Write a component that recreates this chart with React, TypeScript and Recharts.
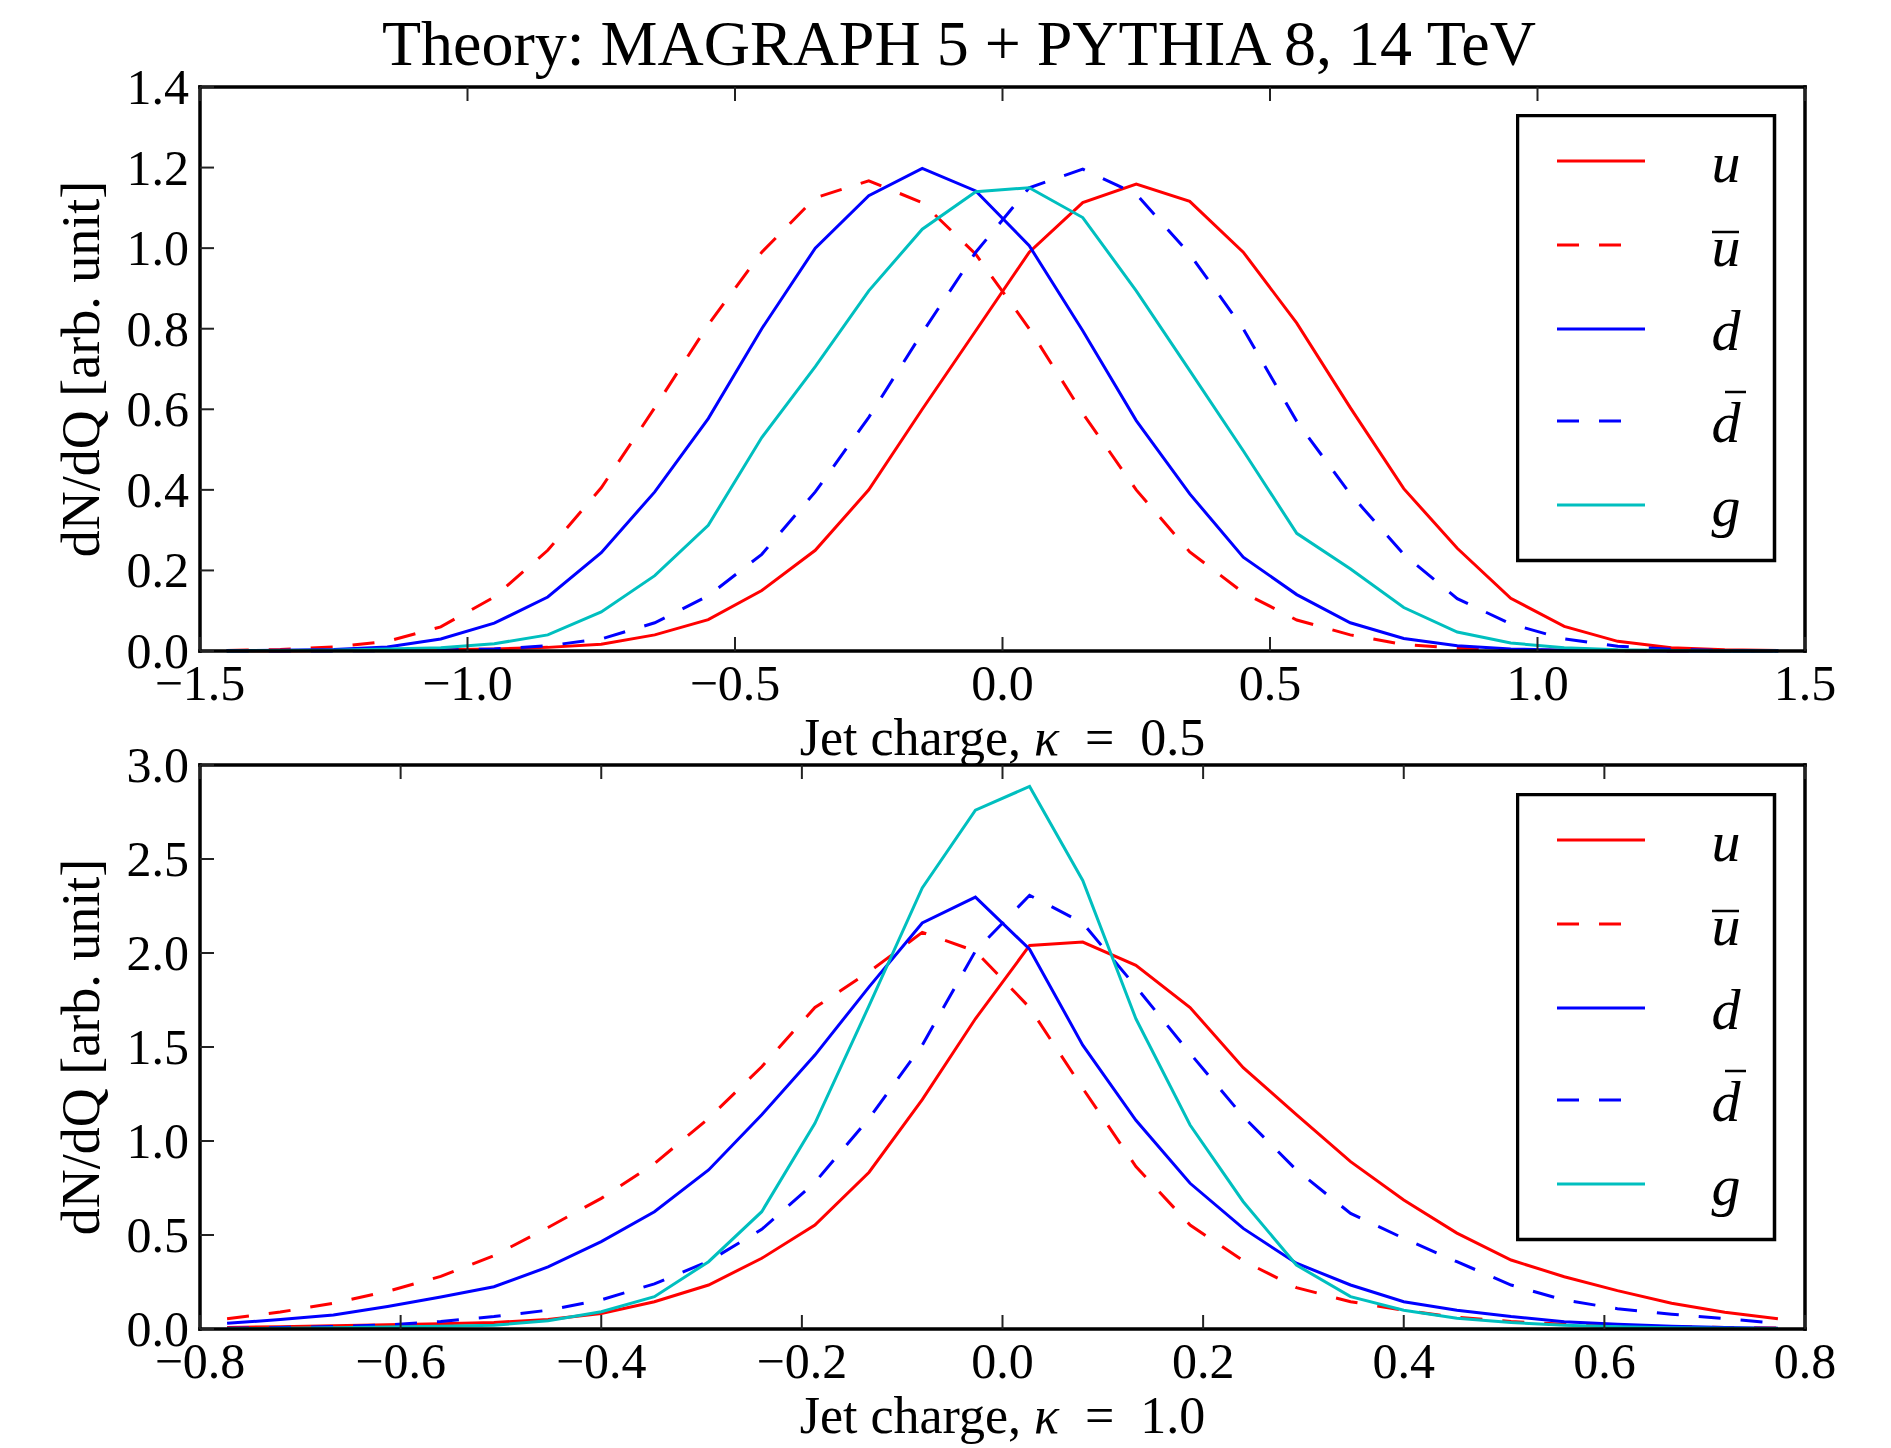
import { LineChart, Line, XAxis, YAxis, Legend } from 'recharts';

// bin centres, kappa = 0.5 panel
const X_TOP = [-1.45, -1.35, -1.25, -1.15, -1.05, -0.95, -0.85, -0.75, -0.65, -0.55, -0.45, -0.35, -0.25, -0.15, -0.05,
  0.05, 0.15, 0.25, 0.35, 0.45, 0.55, 0.65, 0.75, 0.85, 0.95, 1.05, 1.15, 1.25, 1.35, 1.45];
const U_TOP = [0.000, 0.000, 0.001, 0.002, 0.003, 0.005, 0.009, 0.017, 0.040, 0.078, 0.150, 0.250, 0.400, 0.600, 0.795,
  0.990, 1.113, 1.159, 1.116, 0.990, 0.814, 0.604, 0.403, 0.255, 0.131, 0.061, 0.024, 0.008, 0.003, 0.001];
const UBAR_TOP = [0.001, 0.004, 0.010, 0.024, 0.060, 0.134, 0.250, 0.405, 0.604, 0.810, 0.990, 1.125, 1.167, 1.113, 0.985,
  0.800, 0.590, 0.400, 0.246, 0.145, 0.077, 0.040, 0.016, 0.007, 0.003, 0.002, 0.001, 0.000, 0.000, 0.000];
const D_TOP = [0.001, 0.002, 0.004, 0.010, 0.030, 0.069, 0.134, 0.244, 0.395, 0.577, 0.800, 1.000, 1.130, 1.198, 1.142,
  1.006, 0.795, 0.572, 0.390, 0.233, 0.140, 0.070, 0.031, 0.013, 0.005, 0.002, 0.001, 0.000, 0.000, 0.000];
const DBAR_TOP = [0.000, 0.000, 0.000, 0.001, 0.002, 0.005, 0.013, 0.030, 0.070, 0.137, 0.240, 0.395, 0.580, 0.790, 0.990,
  1.150, 1.196, 1.134, 0.985, 0.800, 0.570, 0.390, 0.240, 0.130, 0.067, 0.030, 0.012, 0.004, 0.001, 0.000];
const G_TOP = [0.000, 0.001, 0.002, 0.005, 0.008, 0.018, 0.040, 0.097, 0.187, 0.312, 0.530, 0.706, 0.894, 1.047, 1.140,
  1.150, 1.076, 0.894, 0.696, 0.497, 0.292, 0.204, 0.108, 0.047, 0.020, 0.008, 0.003, 0.001, 0.000, 0.000];

// bin centres, kappa = 1.0 panel
const X_BOT = [-0.773, -0.720, -0.667, -0.613, -0.560, -0.507, -0.453, -0.400, -0.347, -0.293, -0.240, -0.187, -0.133, -0.080, -0.027,
  0.027, 0.080, 0.133, 0.187, 0.240, 0.293, 0.347, 0.400, 0.453, 0.507, 0.560, 0.613, 0.667, 0.720, 0.773];
const U_BOT = [0.008, 0.012, 0.017, 0.022, 0.028, 0.035, 0.050, 0.083, 0.145, 0.234, 0.376, 0.553, 0.834, 1.220, 1.650,
  2.040, 2.058, 1.934, 1.710, 1.390, 1.140, 0.890, 0.686, 0.510, 0.367, 0.278, 0.204, 0.137, 0.089, 0.055];
const UBAR_BOT = [0.055, 0.090, 0.137, 0.200, 0.280, 0.390, 0.540, 0.695, 0.880, 1.120, 1.395, 1.710, 1.900, 2.110, 2.010,
  1.710, 1.280, 0.864, 0.553, 0.363, 0.220, 0.145, 0.100, 0.062, 0.040, 0.025, 0.017, 0.012, 0.008, 0.005];
const D_BOT = [0.030, 0.050, 0.075, 0.120, 0.170, 0.225, 0.330, 0.465, 0.624, 0.846, 1.140, 1.457, 1.820, 2.160, 2.297,
  2.020, 1.510, 1.110, 0.775, 0.535, 0.350, 0.234, 0.145, 0.100, 0.066, 0.039, 0.025, 0.014, 0.008, 0.004];
const DBAR_BOT = [0.004, 0.008, 0.013, 0.022, 0.040, 0.066, 0.100, 0.155, 0.240, 0.360, 0.530, 0.780, 1.120, 1.510, 2.010,
  2.307, 2.160, 1.820, 1.466, 1.130, 0.846, 0.615, 0.482, 0.358, 0.234, 0.154, 0.108, 0.079, 0.055, 0.030];
const G_BOT = [0.002, 0.004, 0.006, 0.010, 0.014, 0.020, 0.044, 0.092, 0.172, 0.358, 0.624, 1.094, 1.720, 2.346, 2.760,
  2.886, 2.386, 1.650, 1.085, 0.677, 0.340, 0.172, 0.100, 0.057, 0.034, 0.020, 0.012, 0.007, 0.004, 0.002];

const X_TICKS_TOP = [-1.5, -1.0, -0.5, 0.0, 0.5, 1.0, 1.5];
const Y_TICKS_TOP = [0.0, 0.2, 0.4, 0.6, 0.8, 1.0, 1.2, 1.4];
const X_TICKS_BOT = [-0.8, -0.6, -0.4, -0.2, 0.0, 0.2, 0.4, 0.6, 0.8];
const Y_TICKS_BOT = [0.0, 0.5, 1.0, 1.5, 2.0, 2.5, 3.0];

const TITLE = 'Theory: MAGRAPH 5 + PYTHIA 8, 14 TeV';
const Y_TITLE = 'dN/dQ [arb. unit]';

const FONT = '"Liberation Serif", "Times New Roman", serif';
const TICK_LEN = 14;
const DASH = '22 20';

const SERIES = [
  { key: 'u', name: 'u', color: '#ff0000', dash: undefined },
  { key: 'ubar', name: 'u\u0304', color: '#ff0000', dash: DASH },
  { key: 'd', name: 'd', color: '#0000ff', dash: undefined },
  { key: 'dbar', name: 'd\u0304', color: '#0000ff', dash: DASH },
  { key: 'g', name: 'g', color: '#00bfbf', dash: undefined },
];

const fmt = (v: number) => v.toFixed(1).replace('-', '\u2212');

const BottomTick = (props: any) => {
  const { x, y, payload } = props;
  return (
    <g>
      <line x1={x} x2={x} y1={y} y2={y - TICK_LEN} stroke="#222" strokeWidth={2} />
      <text x={x} y={y + 49} textAnchor="middle" fontFamily={FONT} fontSize={50} fill="#000">
        {fmt(payload.value)}
      </text>
    </g>
  );
};

const TopTick = (props: any) => {
  const { x, y } = props;
  return <line x1={x} x2={x} y1={y} y2={y + TICK_LEN} stroke="#222" strokeWidth={2} />;
};

const LeftTick = (props: any) => {
  const { x, y, payload } = props;
  return (
    <g>
      <line x1={x} x2={x + TICK_LEN} y1={y} y2={y} stroke="#222" strokeWidth={2} />
      <text x={x - 11} y={y + 17} textAnchor="end" fontFamily={FONT} fontSize={50} fill="#000">
        {fmt(payload.value)}
      </text>
    </g>
  );
};

const RightTick = (props: any) => {
  const { x, y } = props;
  return <line x1={x} x2={x - TICK_LEN} y1={y} y2={y} stroke="#222" strokeWidth={2} />;
};

const LEGEND_ROWS = [47, 131, 215, 307, 391];

const LegendBox = ({ payload }: any) => {
  const items = SERIES.map((s) => (payload || []).find((p: any) => p.dataKey === s.key)).filter(Boolean);
  return (
    <svg width={262} height={450} style={{ display: 'block' }}>
      <rect x={1.5} y={1.5} width={257} height={445} fill="#fff" stroke="#000" strokeWidth={3.5} />
      {items.map((e: any, i: number) => {
        const y = LEGEND_ROWS[i];
        const raw = String(e.value);
        const bar = raw.includes('\u0304');
        const base = raw.replace('\u0304', '');
        const dash = e.payload?.strokeDasharray;
        const tall = base === 'd';
        return (
          <g key={raw}>
            <line x1={41} x2={dash ? 108 : 129} y1={y} y2={y} stroke={e.color} strokeWidth={3} strokeDasharray={dash} />
            <text x={210} y={y + 21} textAnchor="middle" fontFamily={FONT} fontStyle="italic" fontSize={58} fill="#000">
              {base}
            </text>
            {bar && (
              <line x1={tall ? 209 : 196} x2={tall ? 230 : 223} y1={tall ? y - 29 : y - 13} y2={tall ? y - 29 : y - 13}
                stroke="#000" strokeWidth={2.5} />
            )}
          </g>
        );
      })}
    </svg>
  );
};

type PanelProps = {
  xs: number[];
  u: number[];
  ubar: number[];
  d: number[];
  dbar: number[];
  g: number[];
  xTicks: number[];
  yTicks: number[];
  kappa: string;
  height: number;
  marginTop: number;
  axisHeight: number;
  legendTop: number;
};

function Panel({ xs, u, ubar, d, dbar, g, xTicks, yTicks, kappa, height, marginTop, axisHeight, legendTop }: PanelProps) {
  const rows = xs.map((x, i) => ({ x, u: u[i], ubar: ubar[i], d: d[i], dbar: dbar[i], g: g[i] }));
  const xDomain = [xTicks[0], xTicks[xTicks.length - 1]];
  const yDomain = [yTicks[0], yTicks[yTicks.length - 1]];
  const frame = { stroke: '#000', strokeWidth: 3.5, strokeLinecap: 'square' as const };

  return (
    <LineChart width={1891} height={height} data={rows} margin={{ top: marginTop - 1, right: 85, left: 0, bottom: 0 }}>
      <XAxis xAxisId="b" dataKey="x" type="number" domain={xDomain} ticks={xTicks} interval={0}
        height={axisHeight} tickSize={0} tickMargin={0} tickLine={false} axisLine={frame} tick={BottomTick}
        label={(p: any) => (
          <text x={p.viewBox.x + p.viewBox.width / 2} y={p.viewBox.y + 104} textAnchor="middle"
            fontFamily={FONT} fontSize={52} fill="#000">
            Jet charge, <tspan fontStyle="italic">κ</tspan>{'\u2002=\u2002'}{kappa}
          </text>
        )} />
      <XAxis xAxisId="t" orientation="top" dataKey="x" type="number" domain={xDomain} ticks={xTicks} interval={0}
        height={1} tickSize={0} tickMargin={0} tickLine={false} axisLine={frame} tick={TopTick} />
      <YAxis yAxisId="l" type="number" domain={yDomain} ticks={yTicks} interval={0} width={200}
        tickSize={0} tickMargin={0} tickLine={false} axisLine={frame} tick={LeftTick}
        label={(p: any) => (
          <text transform={`translate(81, ${p.viewBox.y + p.viewBox.height / 2}) rotate(-90)`} textAnchor="middle"
            dominantBaseline="central" fontFamily={FONT} fontSize={54} fill="#000">
            {Y_TITLE}
          </text>
        )} />
      <YAxis yAxisId="r" orientation="right" type="number" domain={yDomain} ticks={yTicks} interval={0} width={1}
        tickSize={0} tickMargin={0} tickLine={false} axisLine={frame} tick={RightTick} />
      {SERIES.map((s) => (
        <Line key={s.key} xAxisId="b" yAxisId="l" type="linear" dataKey={s.key} name={s.name} stroke={s.color}
          strokeWidth={3} strokeDasharray={s.dash} dot={false} activeDot={false} legendType="line"
          isAnimationActive={false} />
      ))}
      <Legend layout="vertical" align="center" verticalAlign="middle"
        wrapperStyle={{ left: 1516, top: legendTop, width: 262, height: 450 }}
        content={(p: any) => <LegendBox payload={p.payload} />} />
    </LineChart>
  );
}

export default function App() {
  return (
    <div style={{ position: 'absolute', left: 0, top: 0, width: 1891, height: 1448, background: '#fff' }}>
      <div style={{ position: 'absolute', left: 0, top: 0 }}>
        <Panel xs={X_TOP} u={U_TOP} ubar={UBAR_TOP} d={D_TOP} dbar={DBAR_TOP} g={G_TOP}
          xTicks={X_TICKS_TOP} yTicks={Y_TICKS_TOP} kappa="0.5" height={780} marginTop={87} axisHeight={129}
          legendTop={114} />
      </div>
      <div style={{ position: 'absolute', left: 0, top: 700 }}>
        <Panel xs={X_BOT} u={U_BOT} ubar={UBAR_BOT} d={D_BOT} dbar={DBAR_BOT} g={G_BOT}
          xTicks={X_TICKS_BOT} yTicks={Y_TICKS_BOT} kappa="1.0" height={748} marginTop={65} axisHeight={119}
          legendTop={93} />
      </div>
      <div style={{ position: 'absolute', left: 0, top: 11, width: 1918, textAlign: 'center', fontFamily: FONT,
        fontSize: 64, lineHeight: '66px', color: '#000', whiteSpace: 'nowrap' }}>
        {TITLE}
      </div>
    </div>
  );
}
